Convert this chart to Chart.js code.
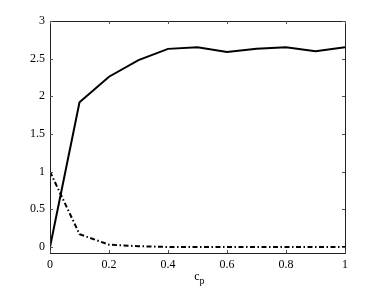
<!DOCTYPE html>
<html><head><meta charset="utf-8">
<script src="https://cdn.jsdelivr.net/npm/chart.js@4/dist/chart.umd.min.js"></script>
<style>html,body{margin:0;padding:0;background:#fff}#wrap{width:382px;height:287px}</style>
</head><body><div id="wrap"><canvas id="c" width="382" height="287"></canvas></div>
<script>
const xValues = [0, 0.1, 0.2, 0.3, 0.4, 0.5, 0.6, 0.7, 0.8, 0.9, 1.0];
const solidSeries = [0, 1.92, 2.26, 2.48, 2.63, 2.65, 2.59, 2.63, 2.65, 2.60, 2.65];
const dashDotSeries = [1.0, 0.17, 0.03, 0.01, 0.0, 0.0, 0.0, 0.0, 0.0, 0.0, 0.0];
const xTicks = [0, 0.2, 0.4, 0.6, 0.8, 1];
const yTicks = [0, 0.5, 1, 1.5, 2, 2.5, 3];
const xTitle = 'c';
const xTitleSub = 'p';

const FONT = '"Liberation Serif", "Times New Roman", serif';

const framePlugin = {
  id: 'frame',
  afterDraw(chart) {
    const ctx = chart.ctx, a = chart.chartArea;
    const xs = chart.scales.x, ys = chart.scales.y;
    ctx.save();
    ctx.strokeStyle = '#222';
    ctx.lineWidth = 1;
    ctx.strokeRect(Math.round(a.left) + 0.5, Math.round(a.top) + 0.5, Math.round(a.right - a.left), Math.round(a.bottom - a.top));
    ctx.strokeStyle = '#555';
    const L = 3;
    xTicks.forEach(v => {
      const px = Math.round(xs.getPixelForValue(v)) + 0.5;
      ctx.beginPath();
      ctx.moveTo(px, a.bottom); ctx.lineTo(px, a.bottom - L);
      ctx.moveTo(px, a.top); ctx.lineTo(px, a.top + L);
      ctx.stroke();
    });
    yTicks.forEach(v => {
      const py = Math.round(ys.getPixelForValue(v)) + 0.5;
      ctx.beginPath();
      ctx.moveTo(a.left, py); ctx.lineTo(a.left + L, py);
      ctx.moveTo(a.right, py); ctx.lineTo(a.right - L, py);
      ctx.stroke();
    });
    // axis title c_p
    const cx = (a.left + a.right) / 2;
    ctx.fillStyle = '#000';
    ctx.textBaseline = 'alphabetic';
    ctx.textAlign = 'right';
    ctx.font = '12px ' + FONT;
    ctx.fillText(xTitle, cx + 2, a.bottom + 27);
    ctx.textAlign = 'left';
    ctx.font = '10px ' + FONT;
    ctx.fillText(xTitleSub, cx + 2, a.bottom + 31);
    ctx.restore();
  }
};

new Chart(document.getElementById('c'), {
  type: 'line',
  data: {
    datasets: [
      { data: xValues.map((x, i) => ({x, y: solidSeries[i]})), borderColor: '#000', borderWidth: 2, pointRadius: 0, tension: 0, fill: false },
      { data: xValues.map((x, i) => ({x, y: dashDotSeries[i]})), borderColor: '#000', borderWidth: 2, borderDash: [5, 2.5, 1.5, 2.5], pointRadius: 0, tension: 0, fill: false }
    ]
  },
  options: {
    responsive: false,
    animation: false,
    devicePixelRatio: 1,
    layout: { padding: { top: 21, right: 37, left: 0, bottom: 0 } },
    plugins: { legend: { display: false }, tooltip: { enabled: false } },
    scales: {
      x: {
        type: 'linear', min: 0, max: 1,
        afterBuildTicks: s => { s.ticks = xTicks.map(v => ({value: v})); },
        afterFit: s => { s.height = 34; },
        grid: { display: false, drawTicks: false },
        border: { display: false },
        ticks: { color: '#000', font: { family: FONT, size: 12 }, padding: 5, maxRotation: 0, callback: v => String(v) }
      },
      y: {
        type: 'linear', min: -0.08, max: 3,
        afterBuildTicks: s => { s.ticks = yTicks.map(v => ({value: v})); },
        afterFit: s => { s.width = 50; },
        grid: { display: false, drawTicks: false },
        border: { display: false },
        ticks: { color: '#000', font: { family: FONT, size: 12 }, padding: 5, callback: v => String(v) }
      }
    }
  },
  plugins: [framePlugin]
});
</script>
</body></html>
